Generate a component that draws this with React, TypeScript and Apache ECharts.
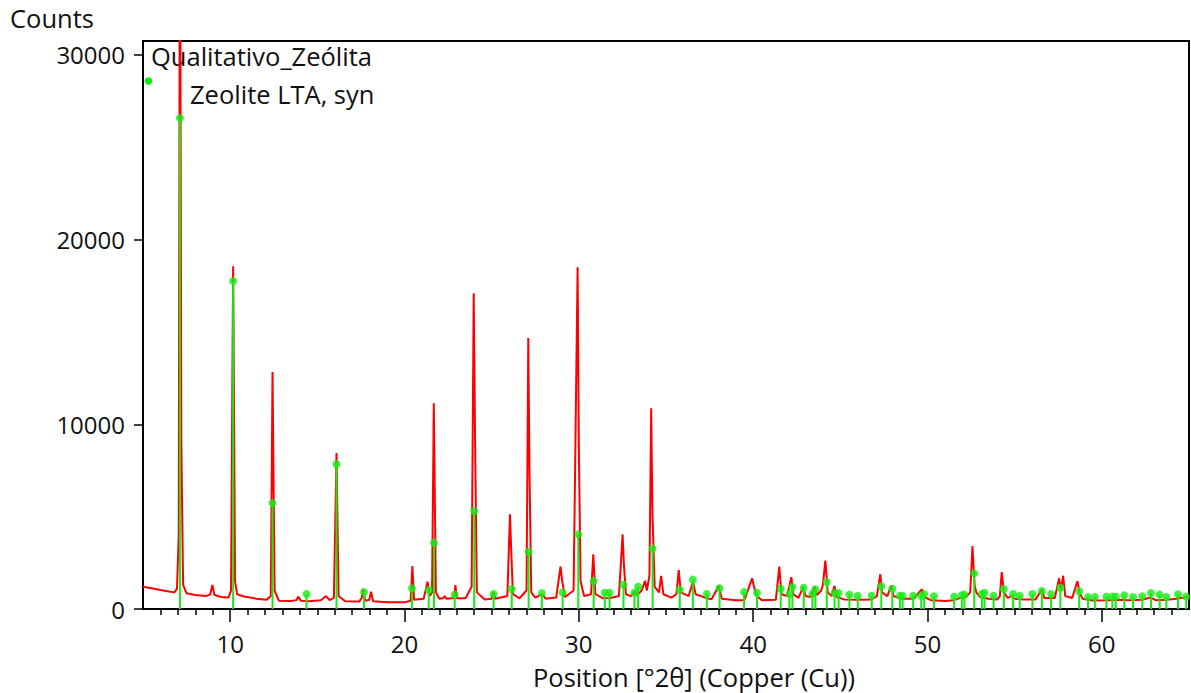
import React, { useEffect, useRef } from "react";
import * as echarts from "echarts";

// Measured profile (°2θ, counts)
const profileTheta = [
  5.0, 5.5, 6.0, 6.5, 6.8, 6.95, 7.05, 7.12, 7.2, 7.3, 7.5, 8.0, 8.6, 8.85, 8.98, 9.1, 9.5, 9.9,
  10.05, 10.17, 10.28, 10.4, 10.8, 11.5, 12.1, 12.33, 12.43, 12.55, 12.8, 13.5, 13.8, 13.92, 14.05,
  14.5, 15.2, 15.5, 15.7, 15.95, 16.1, 16.22, 16.6, 17.4, 17.55, 17.63, 17.75, 17.98, 18.08, 18.2,
  19.0, 20.0, 20.35, 20.45, 20.55, 21.1, 21.32, 21.45, 21.58, 21.68, 21.8, 22.0, 22.2, 22.3, 22.4,
  22.85, 22.92, 23.0, 23.5, 23.85, 23.97, 24.05, 24.15, 24.6, 25.0, 25.1, 25.2, 25.9, 26.05, 26.12,
  26.22, 26.6, 27.0, 27.1, 27.17, 27.27, 27.5, 27.9, 28.1, 28.7, 28.95, 29.05, 29.2, 29.7, 29.93,
  30.0, 30.1, 30.3, 30.7, 30.83, 30.95, 31.4, 31.8, 32.3, 32.51, 32.58, 32.7, 33.0, 33.2, 33.35,
  33.6, 33.8, 33.9, 34.05, 34.15, 34.22, 34.35, 34.6, 34.72, 34.85, 35.3, 35.6, 35.73, 35.85, 36.3,
  36.55, 36.7, 37.3, 37.6, 38.03, 38.2, 39.0, 39.5, 39.94, 40.05, 40.2, 40.5, 41.3, 41.5, 41.62,
  41.95, 42.19, 42.3, 42.6, 42.88, 43.0, 43.3, 43.51, 43.65, 43.9, 44.0, 44.14, 44.28, 44.5, 44.66,
  44.8, 45.2, 46.0, 46.8, 47.1, 47.29, 47.4, 47.7, 47.92, 48.05, 48.5, 49.2, 49.68, 49.8, 50.2,
  51.0, 51.5, 51.9, 52.2, 52.45, 52.58, 52.7, 52.8, 53.0, 53.5, 54.0, 54.15, 54.26, 54.38, 54.6,
  54.85, 55.0, 55.5, 56.2, 56.56, 56.7, 57.3, 57.55, 57.65, 57.78, 57.9, 58.3, 58.6, 58.72, 58.9,
  59.5, 60.3, 61.0, 61.5, 62.3, 62.8, 63.1, 63.7, 64.3, 64.5, 65.0,
];
const profileCounts = [
  1210, 1120, 1030, 950, 900, 1100, 4000, 42000, 9000, 1300, 850, 760, 700, 780, 1300, 760, 650, 620,
  1000, 18550, 1500, 800, 680, 560, 500, 700, 12830, 1000, 440, 430, 480, 670, 450,
  420, 470, 700, 480, 600, 8450, 700, 420, 400, 600, 1070, 450, 500, 940, 420,
  360, 360, 450, 2330, 500, 560, 1480, 700, 900, 11140, 900, 560, 580, 700, 560,
  600, 1300, 580, 580, 1200, 17100, 9000, 900, 520, 560, 900, 560, 700, 5130, 3200,
  800, 580, 1000, 14670, 7400, 900, 620, 800, 560, 620, 2290, 1500, 650, 1000, 18500,
  8790, 1500, 700, 800, 2960, 800, 580, 600, 700, 4040, 2500, 800, 700, 950, 750,
  1000, 1530, 1000, 1800, 10870, 5270, 1200, 900, 1790, 800, 620, 800, 2110, 900, 700,
  1480, 800, 600, 520, 1240, 560, 470, 480, 1660, 1200, 700, 480, 500, 2290, 800,
  700, 1720, 800, 600, 1210, 700, 650, 1210, 750, 1000, 1300, 2620, 900, 700, 1250,
  650, 520, 500, 520, 700, 1880, 900, 700, 1280, 700, 560, 550, 1070, 650, 480,
  430, 480, 600, 650, 900, 3410, 1300, 900, 650, 550, 520, 700, 2000, 900, 600,
  700, 560, 520, 520, 1060, 600, 600, 1660, 1000, 1800, 700, 600, 1500, 900, 550,
  460, 470, 500, 470, 500, 620, 480, 500, 550, 600, 650,
];

// Reference pattern: Zeolite LTA, syn
const stickTheta = [
  7.12, 10.17, 12.43, 14.38, 16.1, 17.68, 20.43, 21.39, 21.69, 22.88, 24.0, 25.11, 26.15, 27.12,
  27.88, 29.07, 29.97, 30.85, 31.49, 31.76, 32.56, 33.19, 33.4, 34.23, 35.79, 36.54, 37.34, 38.07,
  39.48, 40.22, 41.58, 42.08, 42.25, 42.9, 43.4, 43.57, 44.22, 44.67, 44.9, 45.52, 46.0, 46.8,
  47.35, 47.98, 48.42, 48.57, 49.18, 49.64, 49.81, 50.37, 51.53, 51.97, 52.12, 52.68, 53.12, 53.27,
  53.79, 54.38, 54.91, 55.29, 56.02, 56.56, 57.09, 57.62, 58.7, 59.21, 59.6, 60.26, 60.6, 60.8,
  61.29, 61.79, 62.32, 62.82, 63.32, 63.7, 64.37, 64.84,
];
const stickCounts = [
  26580, 17760, 5740, 810, 7850, 920, 1120, 1030, 3590, 780, 5300, 810, 1080, 3100,
  850, 900, 4040, 1520, 880, 880, 1320, 880, 1210, 3270, 1050, 1590, 810, 1120,
  920, 880, 1100, 810, 1190, 1150, 830, 1070, 1460, 870, 870, 780, 720, 720,
  1230, 1100, 720, 720, 720, 700, 810, 690, 670, 740, 780, 1930, 810, 880,
  720, 1080, 810, 720, 810, 970, 810, 1150, 960, 650, 650, 670, 670, 670,
  740, 650, 690, 870, 780, 650, 800, 670,
];

const yTickValues = [0, 10000, 20000, 30000];
const xLabelValues = [10, 20, 30, 40, 50, 60];
const xMinorValues = [
  6, 7, 8, 9, 11, 12, 13, 14, 15, 16, 17, 18, 19, 21, 22, 23, 24, 25, 26, 27, 28, 29, 31, 32, 33, 34,
  35, 36, 37, 38, 39, 41, 42, 43, 44, 45, 46, 47, 48, 49, 51, 52, 53, 54, 55, 56, 57, 58, 59, 61, 62,
  63, 64,
];

const FONT = "Open Sans";
const RED = "#ff0000";
const GREEN = "#14ec14";
const TEXT_FONT = `25.5px '${FONT}'`;

export default function App() {
  const ref = useRef<HTMLDivElement>(null);
  useEffect(() => {
    document.body.style.margin = "0";
    const chart = echarts.init(ref.current!, null, { renderer: "svg" });
    const profile = profileTheta.map((t, i) => [t, profileCounts[i]]);
    const sticks = stickTheta.map((t, i) => [t, stickCounts[i]]);
    chart.setOption({
      animation: false,
      backgroundColor: "#ffffff",
      textStyle: { fontFamily: FONT },
      grid: {
        left: 143,
        right: 2,
        top: 41,
        bottom: 84,
        show: true,
        borderColor: "#000",
        borderWidth: 2,
        backgroundColor: "transparent",
      },
      xAxis: [
        {
          type: "value",
          min: 5,
          max: 65,
          axisLine: { show: true, lineStyle: { color: "#000", width: 2 } },
          axisTick: { show: true, customValues: xLabelValues, length: 13, lineStyle: { color: "#000", width: 1.5 } },
          axisLabel: {
            customValues: xLabelValues,
            color: "#111",
            fontSize: 24,
            fontFamily: FONT,
            margin: 22,
            formatter: (v: number) => String(v),
          },
          splitLine: { show: false },
        },
        {
          type: "value",
          min: 5,
          max: 65,
          position: "bottom",
          axisLine: { show: false },
          axisTick: { show: true, customValues: xMinorValues, length: 6, lineStyle: { color: "#000", width: 1.5 } },
          axisLabel: { show: false },
          splitLine: { show: false },
        },
      ],
      yAxis: {
        type: "value",
        min: 0,
        max: 30750,
        axisLine: { show: true, lineStyle: { color: "#000", width: 2 } },
        axisTick: { show: true, customValues: yTickValues, length: 9, lineStyle: { color: "#000", width: 1.5 } },
        axisLabel: {
          customValues: yTickValues,
          color: "#111",
          fontSize: 24,
          fontFamily: FONT,
          margin: 18,
          formatter: (v: number) => String(v),
        },
        splitLine: { show: false },
      },
      graphic: [
        { type: "text", left: 10, top: 5, style: { text: "Counts", font: TEXT_FONT, fill: "#111" } },
        { type: "text", left: 151, top: 43, style: { text: "Qualitativo_Zeólita", font: TEXT_FONT, fill: "#111" } },
        { type: "text", left: 190, top: 81, style: { text: "Zeolite LTA, syn", font: TEXT_FONT, fill: "#111" } },
        { type: "circle", shape: { cx: 148.5, cy: 81, r: 3.8 }, style: { fill: GREEN } },
        {
          type: "text",
          x: 694,
          y: 677,
          style: {
            text: "Position [°2θ] (Copper (Cu))",
            font: `25.5px '${FONT}'`,
            lineHeight: 26,
            fill: "#111",
            align: "center",
            verticalAlign: "middle",
          },
        },
      ],
      series: [
        {
          type: "line",
          data: profile,
          showSymbol: false,
          symbol: "none",
          clip: true,
          lineStyle: { color: RED, width: 2 },
          z: 2,
        },
        {
          type: "bar",
          data: sticks,
          barWidth: 2,
          itemStyle: { color: GREEN },
          z: 3,
        },
        {
          type: "scatter",
          data: sticks,
          symbol: "circle",
          symbolSize: 8,
          itemStyle: { color: GREEN },
          z: 4,
        },
      ],
    });
    return () => chart.dispose();
  }, []);
  return (
    <div
      ref={ref}
      style={{ position: "absolute", left: 0, top: 0, width: 1191, height: 693, background: "#fff" }}
    />
  );
}
